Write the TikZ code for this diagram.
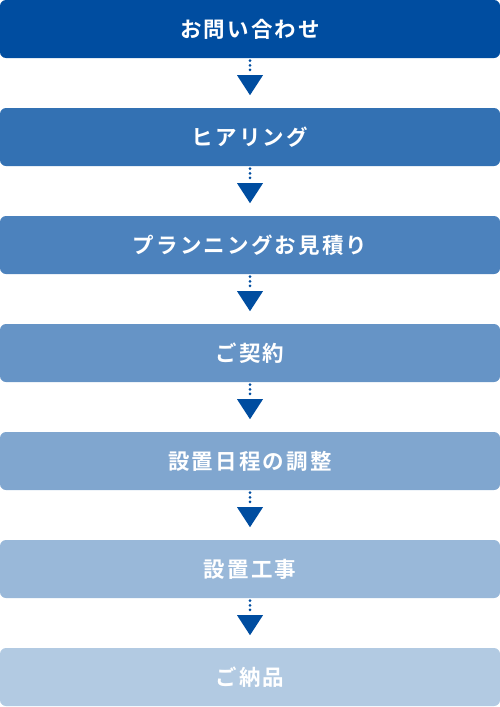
\documentclass[tikz,border=0pt]{standalone}
\usepackage{fontspec}
\usetikzlibrary{calc}
\newfontfamily\jpfont[LetterSpace=10]{Noto Sans CJK JP Bold}
\definecolor{flowblue}{HTML}{004DA0}
\tikzset{x=1pt, y=1pt,
  flow box/.style={rounded corners=6pt, minimum width=500pt, minimum height=58pt,
        inner sep=0pt, text=white, font=\jpfont\fontsize{21.5}{21.5}\selectfont},
  flow dots/.style={draw=flowblue, line width=3pt, line cap=round,
        dash pattern=on 0pt off 4.6pt},
  flow tip/.style={fill=flowblue}
}
\begin{document}
\begin{tikzpicture}
\useasboundingbox (0,0) rectangle (500,-707);
\foreach \n/\pct/\txt in {1/100/お問い合わせ, 2/80/ヒアリング, 3/70/プランニングお見積り,
    4/60/ご契約, 5/50/設置日程の調整, 6/40/設置工事, 7/30/ご納品}
  \node[flow box, fill=flowblue!\pct] (step\n) at (250,{-29-108*(\n-1)}) {\txt};
% arrows between the steps
\foreach \n in {1,...,6}{
  \draw[flow dots] ($(step\n.south)+(0,-2.5)$) -- ($(step\n.south)+(0,-14)$);
  \fill[flow tip] ($(step\n.south)+(-13,-17)$) -- ($(step\n.south)+(13,-17)$)
      -- ($(step\n.south)+(0,-37)$) -- cycle;
}
\end{tikzpicture}
\end{document}
